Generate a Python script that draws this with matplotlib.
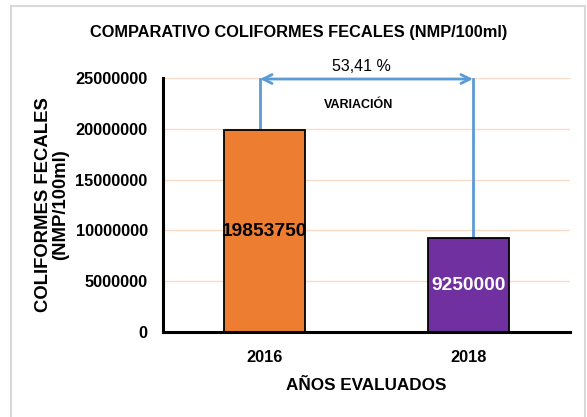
import matplotlib
matplotlib.use("Agg")
import matplotlib.pyplot as plt
import matplotlib.patches as mpatches

# data
years = ["2016", "2018"]
coliformes = [19853750, 9250000]
bar_colors = ["#ED7D31", "#7030A0"]
label_colors = ["black", "white"]
variacion = "53,41 %"

fam = ["Liberation Sans", "DejaVu Sans"]

fig = plt.figure(figsize=(5.87, 4.17), dpi=100)
ax = fig.add_axes([163 / 587, 85 / 417, 407 / 587, 254 / 417])

# light frame round the whole chart
fig.patches.append(mpatches.Rectangle((11 / 587, -0.02), 574 / 587, 1.02 - 6 / 417,
                                      transform=fig.transFigure, fill=False,
                                      edgecolor="#D9D9D9", linewidth=1.5))

x = range(len(years))
rects = ax.bar(x, coliformes, 0.4, color=bar_colors, edgecolor="black",
               linewidth=1.3, zorder=3)

# values in the middle of each bar
for rect, val, col in zip(rects, coliformes, label_colors):
    ax.text(rect.get_x() + rect.get_width() / 2, val / 2.0, str(val),
            ha="center", va="center", color=col, fontsize=13.8,
            fontweight="bold", family=fam, zorder=4)

ax.set_xlim(-0.5, 1.5)
ax.set_ylim(0, 25000000)
ax.set_yticks(range(0, 25000001, 5000000))
ax.set_yticklabels([str(v) for v in range(0, 25000001, 5000000)])
ax.set_xticks(list(x))
ax.set_xticklabels(years)
ax.grid(axis="y", color="#FADBC8", linewidth=1, zorder=0)
ax.tick_params(axis="y", length=0, pad=11)
ax.tick_params(axis="x", length=0, pad=13)
for lab in ax.get_xticklabels() + ax.get_yticklabels():
    lab.set_family(fam)
    lab.set_fontweight("bold")
    lab.set_fontsize(11.8)

for side in ["top", "right"]:
    ax.spines[side].set_visible(False)
for side in ["left", "bottom"]:
    ax.spines[side].set_linewidth(2.2)
    ax.spines[side].set_zorder(5)

# variation bracket between the two bars
blue = "#5B9BD5"
left_x = -0.023
right_x = 1.023
arrow_y = 24900000
ax.plot([left_x, left_x], [coliformes[0], arrow_y], color=blue, lw=2, zorder=2,
        clip_on=False)
ax.plot([right_x, right_x], [coliformes[1], arrow_y], color=blue, lw=2, zorder=2,
        clip_on=False)
ax.annotate("", xy=(left_x, arrow_y), xytext=(right_x, arrow_y),
            arrowprops=dict(arrowstyle="<->", color=blue, lw=2,
                            mutation_scale=16, shrinkA=0, shrinkB=0),
            annotation_clip=False)
ax.text(0.473, 26100000, variacion, ha="center", va="center", fontsize=11.5,
        family=fam, color="black")
ax.text(0.463, 22350000, "VARIACIÓN", ha="center", va="center", fontsize=9,
        fontweight="bold", family=fam, color="black")

fig.text(298.5 / 587, 1 - 32 / 417, "COMPARATIVO COLIFORMES FECALES (NMP/100ml)",
         ha="center", va="center", fontsize=11.8, fontweight="bold", family=fam)
fig.text(366.5 / 587, 1 - 385 / 417, "AÑOS EVALUADOS", ha="center", va="center",
         fontsize=12.3, fontweight="bold", family=fam)
fig.text(52 / 587, 1 - 205 / 417, "COLIFORMES FECALES\n(NMP/100ml)", ha="center",
         va="center", rotation=90, multialignment="center", fontsize=13.3,
         fontweight="bold", family=fam, linespacing=1.0)

fig.savefig("out.png", dpi=100)
